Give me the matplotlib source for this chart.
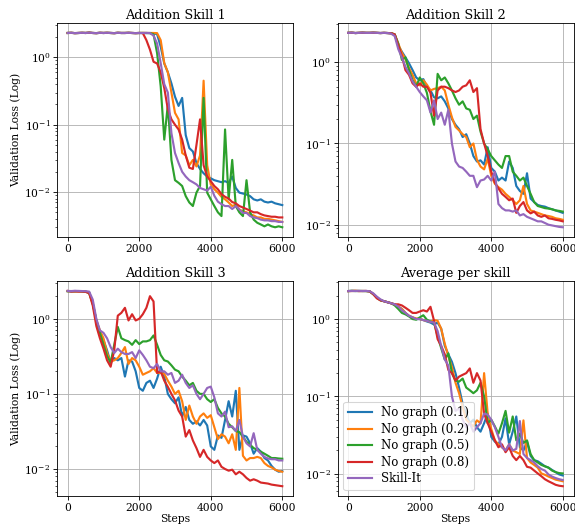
import matplotlib
matplotlib.use("Agg")
import matplotlib.pyplot as plt
import numpy as np

plt.rcParams['font.family'] = ['DejaVu Serif']
plt.rcParams['mathtext.fontset'] = 'dejavuserif'

steps = list(range(0, 6001, 100))
titles = ["Addition Skill 1", "Addition Skill 2", "Addition Skill 3", "Average per skill"]
labels = ["No graph (0.1)", "No graph (0.2)", "No graph (0.5)", "No graph (0.8)", "Skill-It"]
colors = ["#1f77b4", "#ff7f0e", "#2ca02c", "#d62728", "#9467bd"]

FLAT = [2.30, 2.31, 2.29, 2.30, 2.31, 2.30, 2.32, 2.30, 2.29, 2.31,
        2.30, 2.31, 2.30, 2.29, 2.31, 2.30, 2.30, 2.31, 2.30, 2.29]

# ---------------- Addition Skill 1 ----------------
s1_blue = FLAT + [
    2.30, 2.30, 2.29, 2.30, 2.28, 2.20, 1.44, 0.81, 0.60, 0.41,
    0.26, 0.19, 0.25, 0.070, 0.045, 0.040, 0.027, 0.022, 0.019, 0.017,
    0.016, 0.015, 0.0145, 0.014, 0.0145, 0.0137, 0.017, 0.0115, 0.0098, 0.0095,
    0.0092, 0.0087, 0.0078, 0.0075, 0.0078, 0.0072, 0.0070, 0.0072, 0.0068, 0.0066,
    0.0064]
s1_orange = FLAT + [
    2.30, 2.31, 2.30, 2.30, 2.30, 2.29, 1.80, 0.82, 0.60, 0.30,
    0.15, 0.12, 0.038, 0.035, 0.025, 0.030, 0.024, 0.035, 0.45, 0.025,
    0.013, 0.011, 0.0098, 0.0085, 0.0078, 0.0070, 0.0062, 0.0065, 0.0055, 0.0052,
    0.0050, 0.0047, 0.0045, 0.0042, 0.0042, 0.0040, 0.0040, 0.0039, 0.0038, 0.0037,
    0.0036]
s1_green = FLAT + [
    2.30, 2.30, 2.30, 2.29, 2.20, 1.15, 0.37, 0.060, 0.20, 0.030,
    0.015, 0.0137, 0.0123, 0.0087, 0.0070, 0.0062, 0.0098, 0.0123, 0.25, 0.0098,
    0.0078, 0.0062, 0.0050, 0.0044, 0.085, 0.0078, 0.030, 0.0062, 0.0050, 0.0044,
    0.015, 0.0050, 0.0039, 0.0035, 0.0033, 0.0031, 0.0033, 0.0031, 0.0030, 0.0031,
    0.0030]
s1_red = FLAT + [
    2.30, 2.29, 1.80, 1.30, 0.86, 0.81, 0.60, 0.35, 0.17, 0.12,
    0.10, 0.085, 0.060, 0.035, 0.023, 0.022, 0.050, 0.12, 0.025, 0.017,
    0.0145, 0.0123, 0.011, 0.0093, 0.0085, 0.0080, 0.0071, 0.0068, 0.0062, 0.0059,
    0.0056, 0.0053, 0.0050, 0.0050, 0.0047, 0.0045, 0.0044, 0.0043, 0.0043, 0.0042,
    0.0042]
s1_purple = FLAT + [
    2.30, 2.30, 2.31, 2.29, 2.10, 1.60, 0.82, 0.40, 0.30, 0.075,
    0.038, 0.027, 0.020, 0.017, 0.015, 0.014, 0.013, 0.0115, 0.011, 0.0105,
    0.012, 0.0088, 0.0072, 0.0066, 0.0062, 0.0062, 0.0056, 0.0062, 0.0055, 0.0049,
    0.0049, 0.0044, 0.0042, 0.0041, 0.0039, 0.0038, 0.0038, 0.0037, 0.0037, 0.0036,
    0.0036]

FLAT2 = [2.30, 2.31, 2.29, 2.30, 2.31, 2.30, 2.30, 2.31, 2.30, 2.29]

# ---------------- Addition Skill 2 ----------------
s2_blue = FLAT2 + [
    2.30, 2.29, 2.28, 2.20, 1.60, 1.35, 1.15, 0.97, 0.80, 0.65,
    0.60, 0.62, 0.50, 0.45, 0.37, 0.36, 0.38, 0.33, 0.27, 0.20,
    0.17, 0.15, 0.12, 0.13, 0.10, 0.070, 0.060, 0.062, 0.055, 0.090,
    0.050, 0.045, 0.035, 0.038, 0.035, 0.060, 0.050, 0.030, 0.026, 0.024,
    0.043, 0.021, 0.019, 0.0175, 0.017, 0.0167, 0.016, 0.0155, 0.015, 0.0145,
    0.014]
s2_orange = FLAT2 + [
    2.30, 2.29, 2.28, 2.20, 1.70, 1.30, 1.10, 0.85, 0.70, 0.55,
    0.52, 0.60, 0.53, 0.45, 0.47, 0.48, 0.50, 0.45, 0.30, 0.21,
    0.16, 0.145, 0.13, 0.12, 0.090, 0.10, 0.063, 0.052, 0.048, 0.065,
    0.040, 0.032, 0.029, 0.027, 0.024, 0.022, 0.020, 0.018, 0.020, 0.030,
    0.018, 0.015, 0.0145, 0.014, 0.0135, 0.013, 0.0128, 0.0125, 0.012, 0.0118,
    0.0115]
s2_green = FLAT2 + [
    2.30, 2.29, 2.28, 2.20, 1.70, 1.07, 1.15, 0.80, 0.60, 0.50,
    0.65, 0.55, 0.42, 0.25, 0.17, 0.72, 0.60, 0.65, 0.55, 0.45,
    0.36, 0.30, 0.33, 0.27, 0.26, 0.20, 0.22, 0.14, 0.10, 0.085,
    0.070, 0.062, 0.055, 0.050, 0.070, 0.070, 0.045, 0.040, 0.035, 0.038,
    0.030, 0.024, 0.019, 0.017, 0.0165, 0.016, 0.0158, 0.0155, 0.015, 0.0148,
    0.0145]
s2_red = FLAT2 + [
    2.30, 2.29, 2.28, 2.20, 1.60, 1.20, 0.80, 0.70, 0.55, 0.50,
    0.55, 0.50, 0.50, 0.42, 0.22, 0.45, 0.50, 0.50, 0.48, 0.45,
    0.43, 0.45, 0.50, 0.52, 0.60, 0.43, 0.48, 0.15, 0.10, 0.070,
    0.045, 0.033, 0.028, 0.024, 0.022, 0.020, 0.021, 0.014, 0.017, 0.019,
    0.015, 0.0138, 0.0145, 0.013, 0.0125, 0.013, 0.012, 0.0118, 0.0115, 0.0113,
    0.011]
s2_purple = FLAT2 + [
    2.30, 2.29, 2.25, 2.10, 1.45, 1.15, 0.88, 0.73, 0.58, 0.50,
    0.43, 0.38, 0.34, 0.24, 0.34, 0.20, 0.24, 0.17, 0.26, 0.10,
    0.060, 0.052, 0.050, 0.045, 0.040, 0.040, 0.029, 0.035, 0.036, 0.040,
    0.035, 0.045, 0.018, 0.016, 0.015, 0.015, 0.0145, 0.015, 0.013, 0.0135,
    0.0125, 0.012, 0.0115, 0.011, 0.011, 0.0105, 0.010, 0.0098, 0.0096, 0.0094,
    0.0093]

# ---------------- Addition Skill 3 ----------------
s3_blue = [
    2.33, 2.32, 2.34, 2.33, 2.32, 2.30, 2.25, 1.60, 0.95, 0.65,
    0.52, 0.38, 0.26, 0.30, 0.28, 0.30, 0.17, 0.28, 0.27, 0.20,
    0.12, 0.11, 0.14, 0.15, 0.12, 0.16, 0.23, 0.17, 0.10, 0.085,
    0.075, 0.090, 0.050, 0.067, 0.045, 0.040, 0.043, 0.038, 0.045, 0.038,
    0.020, 0.018, 0.028, 0.026, 0.045, 0.080, 0.050, 0.11, 0.018, 0.028,
    0.027, 0.022, 0.016, 0.019, 0.017, 0.014, 0.013, 0.011, 0.0098, 0.0092,
    0.0094]
s3_orange = [
    2.33, 2.34, 2.32, 2.33, 2.31, 2.30, 2.20, 1.60, 0.95, 0.70,
    0.55, 0.35, 0.27, 0.28, 0.30, 0.35, 0.42, 0.25, 0.30, 0.28,
    0.23, 0.18, 0.19, 0.20, 0.22, 0.19, 0.19, 0.185, 0.15, 0.125,
    0.10, 0.11, 0.080, 0.045, 0.070, 0.050, 0.040, 0.050, 0.055, 0.048,
    0.052, 0.036, 0.025, 0.029, 0.027, 0.022, 0.029, 0.018, 0.12, 0.015,
    0.013, 0.014, 0.014, 0.0145, 0.014, 0.012, 0.011, 0.0105, 0.0098, 0.0094,
    0.0092]
s3_green = [
    2.33, 2.33, 2.32, 2.34, 2.32, 2.30, 2.20, 1.60, 0.95, 0.65,
    0.45, 0.32, 0.26, 0.45, 0.78, 0.55, 0.52, 0.50, 0.45, 0.52,
    0.46, 0.50, 0.50, 0.52, 0.60, 0.45, 0.33, 0.28, 0.27, 0.24,
    0.21, 0.20, 0.17, 0.15, 0.13, 0.14, 0.11, 0.10, 0.10, 0.085,
    0.078, 0.085, 0.065, 0.055, 0.050, 0.040, 0.036, 0.032, 0.031, 0.027,
    0.023, 0.021, 0.019, 0.018, 0.017, 0.016, 0.015, 0.014, 0.014, 0.0138,
    0.0137]
s3_red = [
    2.35, 2.30, 2.32, 2.30, 2.31, 2.28, 2.20, 1.50, 0.80, 0.55,
    0.40, 0.28, 0.23, 0.38, 1.10, 1.20, 1.40, 0.95, 1.15, 0.95,
    1.00, 1.15, 1.40, 2.00, 1.70, 0.19, 0.20, 0.15, 0.124, 0.10,
    0.082, 0.060, 0.050, 0.027, 0.033, 0.024, 0.019, 0.0145, 0.018, 0.0145,
    0.013, 0.012, 0.013, 0.0107, 0.010, 0.0095, 0.0098, 0.0085, 0.0092, 0.0085,
    0.0076, 0.0070, 0.0073, 0.0070, 0.0066, 0.0065, 0.0064, 0.0062, 0.0061, 0.0060,
    0.0059]
s3_purple = [
    2.35, 2.34, 2.36, 2.35, 2.34, 2.33, 2.30, 1.80, 1.00, 0.70,
    0.65, 0.55, 0.42, 0.35, 0.40, 0.36, 0.34, 0.34, 0.36, 0.30,
    0.38, 0.33, 0.28, 0.23, 0.22, 0.25, 0.20, 0.20, 0.18, 0.19,
    0.14, 0.15, 0.18, 0.14, 0.12, 0.13, 0.10, 0.085, 0.10, 0.12,
    0.125, 0.090, 0.055, 0.050, 0.058, 0.036, 0.037, 0.032, 0.045, 0.027,
    0.022, 0.020, 0.030, 0.018, 0.016, 0.0145, 0.0138, 0.0135, 0.0135, 0.013,
    0.013]

# ---------------- Average per skill ----------------
s4_blue = [
    2.30, 2.32, 2.31, 2.30, 2.31, 2.30, 2.28, 2.10, 1.90, 1.75,
    1.70, 1.65, 1.60, 1.55, 1.45, 1.35, 1.20, 1.10, 1.05, 1.00,
    1.00, 0.97, 0.93, 0.90, 0.85, 0.90, 0.75, 0.45, 0.35, 0.28,
    0.20, 0.13, 0.080, 0.060, 0.045, 0.050, 0.040, 0.035, 0.045, 0.060,
    0.030, 0.026, 0.024, 0.030, 0.052, 0.024, 0.035, 0.055, 0.022, 0.020,
    0.026, 0.017, 0.015, 0.0145, 0.0135, 0.0125, 0.012, 0.0112, 0.0105, 0.0098,
    0.0095]
s4_orange = [
    2.30, 2.31, 2.32, 2.30, 2.31, 2.30, 2.28, 2.10, 1.90, 1.75,
    1.70, 1.65, 1.60, 1.55, 1.45, 1.35, 1.20, 1.10, 1.05, 1.02,
    1.00, 0.97, 0.95, 0.92, 0.97, 0.95, 0.75, 0.48, 0.33, 0.24,
    0.15, 0.11, 0.073, 0.050, 0.045, 0.041, 0.049, 0.045, 0.20, 0.060,
    0.038, 0.027, 0.024, 0.022, 0.020, 0.024, 0.020, 0.019, 0.018, 0.049,
    0.016, 0.014, 0.013, 0.012, 0.0101, 0.0097, 0.0092, 0.0088, 0.0084, 0.0082,
    0.0080]
s4_green = [
    2.30, 2.31, 2.30, 2.31, 2.30, 2.30, 2.28, 2.10, 1.90, 1.75,
    1.70, 1.65, 1.60, 1.50, 1.35, 1.20, 1.15, 1.08, 1.00, 0.98,
    1.05, 1.12, 0.98, 0.93, 0.90, 0.60, 0.42, 0.30, 0.36, 0.20,
    0.16, 0.155, 0.17, 0.13, 0.12, 0.11, 0.12, 0.15, 0.10, 0.045,
    0.050, 0.041, 0.033, 0.045, 0.065, 0.034, 0.055, 0.027, 0.033, 0.025,
    0.027, 0.018, 0.015, 0.014, 0.013, 0.0125, 0.012, 0.011, 0.0105, 0.0102,
    0.0101]
s4_red = [
    2.30, 2.30, 2.31, 2.30, 2.30, 2.31, 2.28, 2.10, 1.85, 1.75,
    1.70, 1.65, 1.60, 1.55, 1.55, 1.50, 1.40, 1.30, 1.20, 1.20,
    1.25, 1.30, 1.25, 1.44, 0.95, 0.55, 0.45, 0.35, 0.22, 0.20,
    0.16, 0.18, 0.19, 0.20, 0.23, 0.15, 0.20, 0.16, 0.060, 0.045,
    0.035, 0.027, 0.022, 0.024, 0.019, 0.022, 0.017, 0.015, 0.017, 0.015,
    0.0123, 0.012, 0.011, 0.0101, 0.0093, 0.0085, 0.0080, 0.0076, 0.0072, 0.0070,
    0.0069]
s4_purple = [
    2.30, 2.31, 2.30, 2.32, 2.30, 2.31, 2.29, 2.15, 1.95, 1.80,
    1.70, 1.65, 1.60, 1.55, 1.45, 1.30, 1.20, 1.10, 1.05, 1.00,
    1.00, 0.97, 0.95, 0.92, 0.90, 0.70, 0.45, 0.30, 0.25, 0.10,
    0.065, 0.070, 0.050, 0.040, 0.045, 0.035, 0.040, 0.045, 0.060, 0.058,
    0.050, 0.040, 0.030, 0.022, 0.020, 0.024, 0.020, 0.021, 0.048, 0.018,
    0.016, 0.015, 0.014, 0.0125, 0.0115, 0.011, 0.0098, 0.0092, 0.0088, 0.0085,
    0.0083]

panels = [
    [s1_blue, s1_orange, s1_green, s1_red, s1_purple],
    [s2_blue, s2_orange, s2_green, s2_red, s2_purple],
    [s3_blue, s3_orange, s3_green, s3_red, s3_purple],
    [s4_blue, s4_orange, s4_green, s4_red, s4_purple],
]

DPI = 77
W, H = 575.0, 525.0
fig = plt.figure(figsize=(W / DPI, H / DPI), dpi=DPI)
rects = [
    (57, 23, 236, 214),
    (337.5, 23, 236, 214),
    (57, 281, 236, 215),
    (337.5, 281, 236, 215),
]
for i, (series, rect) in enumerate(zip(panels, rects)):
    x0, y0, w, h = rect
    ax = fig.add_axes([x0 / W, 1 - (y0 + h) / H, w / W, h / H])
    for vals, c, lab in zip(series, colors, labels):
        ax.plot(steps, vals, color=c, lw=2.0, label=lab)
    ax.set_yscale('log')
    ax.set_xticks([0, 2000, 4000, 6000])
    ax.grid(True, which='major', color='#b0b0b0', lw=0.8)
    ax.tick_params(labelsize=10)
    ax.tick_params(axis='y', pad=2.5)
    ax.set_title(titles[i], fontsize=12, pad=4)
    if i % 2 == 0:
        ax.set_ylabel("Validation Loss (Log)", fontsize=10, labelpad=3)
    if i >= 2:
        ax.set_xlabel("Steps", fontsize=10, labelpad=0.5)
    if i == 3:
        ax.legend(loc='lower left', fontsize=11, labelspacing=0.3,
                  handlelength=2.0, borderaxespad=0.5)

fig.savefig("out.png", dpi=DPI)
